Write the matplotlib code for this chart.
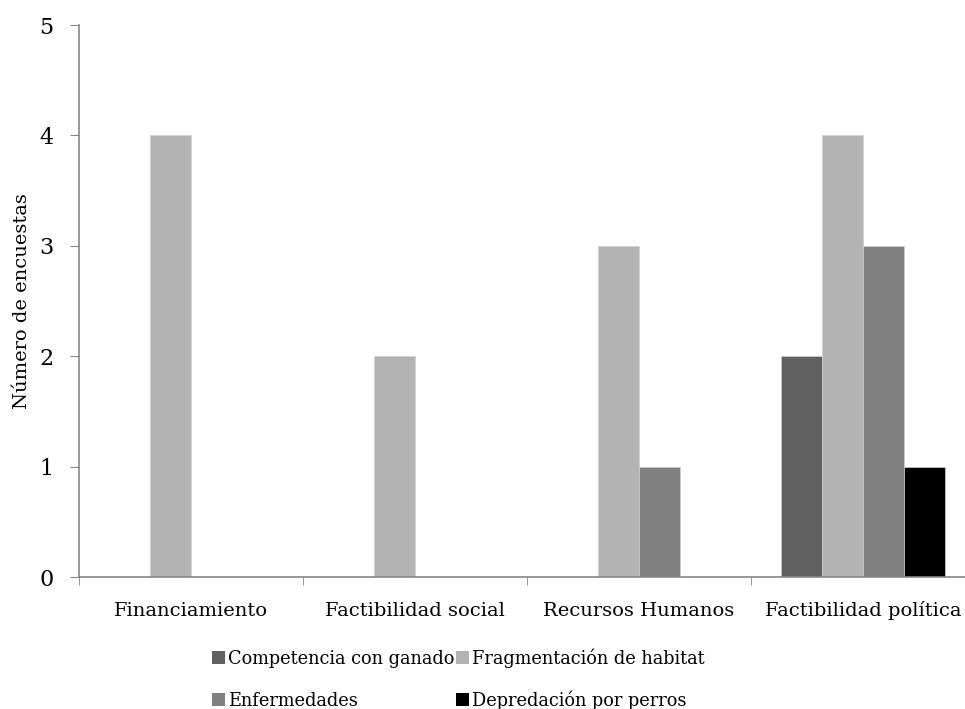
import matplotlib
matplotlib.use('Agg')
import matplotlib.pyplot as plt
from matplotlib.patches import Rectangle
import numpy as np

plt.rcParams.update({
    'font.family': 'DejaVu Serif',
    'font.size': 14,
})

categorias = ['Financiamiento', 'Factibilidad social', 'Recursos Humanos', 'Factibilidad política']
series = ['Competencia con ganado', 'Fragmentación de habitat', 'Enfermedades', 'Depredación por perros']
valores = [
    [0, 0, 0, 2],   # Competencia con ganado
    [4, 2, 3, 4],   # Fragmentación de habitat
    [0, 0, 1, 3],   # Enfermedades
    [0, 0, 0, 1],   # Depredación por perros
]
colores = ['#606060', '#b3b3b3', '#808080', '#000000']

W, H = 965, 709
fig = plt.figure(figsize=(W / 100, H / 100), dpi=100)
ax = fig.add_axes([79 / W, 1 - 577 / H, 896 / W, 552 / H])

x = np.arange(len(categorias))
w = 0.182
for i, (nombre, vals) in enumerate(zip(series, valores)):
    ax.bar(x + (i - 1.5) * w, vals, width=w, color=colores[i], label=nombre,
           edgecolor='#d0d0d0', linewidth=0.5, zorder=2)

ax.set_xlim(-0.5, len(categorias) - 0.5)
ax.set_ylim(0, 5)
ax.set_yticks(range(6))
ax.set_xticks(x)
ax.set_xticklabels(categorias, fontsize=14, va='baseline')
ax.set_xticks(np.arange(-0.5, len(categorias), 1), minor=True)
ax.tick_params(axis='x', which='major', length=0, pad=28)
ax.tick_params(axis='x', which='minor', length=6, color='#868686')
ax.tick_params(axis='y', length=6.5, color='#868686', labelsize=16, pad=12)
for s in ['top', 'right']:
    ax.spines[s].set_visible(False)
for s in ['left', 'bottom']:
    ax.spines[s].set_color('#868686')
    ax.spines[s].set_linewidth(1.2)
ax.set_ylabel('Número de encuestas', fontsize=14, labelpad=6)

# leyenda dibujada a mano, filas alineadas por la línea base
col_x = [212, 456]
fila_y = [664, 706]
orden = [0, 1, 2, 3]  # por filas: fila 1 -> 0, 1; fila 2 -> 2, 3
for k, idx in enumerate(orden):
    cx = col_x[k % 2]
    by = fila_y[k // 2]
    fig.add_artist(Rectangle((cx / W, 1 - by / H), 13 / W, 13 / H,
                             transform=fig.transFigure, facecolor=colores[idx],
                             edgecolor='none'))
    fig.text((cx + 16) / W, 1 - by / H, series[idx], fontsize=12.8,
             va='baseline', ha='left')

plt.savefig('out.png', dpi=100)
plt.close()
print("[OK] out.png")
